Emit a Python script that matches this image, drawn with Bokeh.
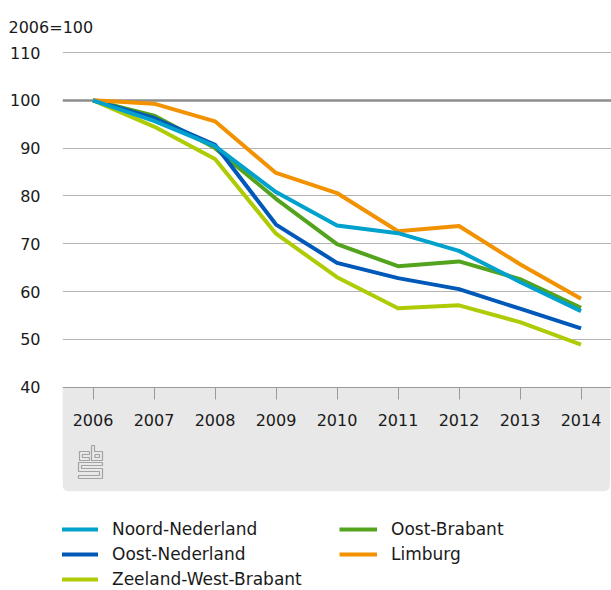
from bokeh.plotting import figure
from bokeh.models import (Range1d, FixedTicker, LinearAxis, Grid, BoxAnnotation,
                          Legend, LegendItem)
from bokeh.embed import file_html
from bokeh.resources import INLINE

# ---------------- data ----------------
years = [2006, 2007, 2008, 2009, 2010, 2011, 2012, 2013, 2014]
x_tick_labels = ["2006", "2007", "2008", "2009", "2010", "2011", "2012", "2013", "2014"]
y_ticks = [40, 50, 60, 70, 80, 90, 100, 110]
base_value = 100

noord_nederland = [100, 95.7, 90.4, 80.8, 73.8, 72.2, 68.5, 62.0, 55.9]
oost_nederland = [100, 96.3, 90.7, 74.0, 66.0, 62.8, 60.5, 56.4, 52.3]
zeeland_west_brabant = [100, 94.5, 87.7, 72.1, 63.0, 56.5, 57.1, 53.6, 48.9]
oost_brabant = [100, 96.8, 90.0, 79.4, 69.9, 65.3, 66.3, 62.6, 56.6]
limburg = [100, 99.3, 95.6, 84.8, 80.6, 72.6, 73.7, 65.7, 58.5]

series_names = ["Noord-Nederland", "Oost-Nederland", "Zeeland-West-Brabant",
                "Oost-Brabant", "Limburg"]
series_values = [noord_nederland, oost_nederland, zeeland_west_brabant,
                 oost_brabant, limburg]
series_colors = ["#00a1cd", "#0058b8", "#afcb05", "#53a31d", "#f39200"]
draw_order = ["Zeeland-West-Brabant", "Oost-Brabant", "Oost-Nederland",
              "Limburg", "Noord-Nederland"]

# ---------------- styling ----------------
FONT = "DejaVu Sans"
TEXT = "#1a1a1a"
FIG_W, FIG_H = 611, 590
FRAME_LEFT = 62
FRAME_TOP = 51
PX_X = 61.0     # px per year
PX_Y = 4.78     # px per index point
Y_TOP = 110.21
X_LEFT = 2005.5
X_RIGHT = X_LEFT + (FIG_W - FRAME_LEFT) / PX_X
Y_BOTTOM = Y_TOP - (FIG_H - FRAME_TOP) / PX_Y

p = figure(width=FIG_W, height=FIG_H, output_backend="svg", toolbar_location=None, tools="",
           x_range=Range1d(X_LEFT, X_RIGHT), y_range=Range1d(Y_BOTTOM, Y_TOP),
           x_axis_location=None, min_border_left=FRAME_LEFT, min_border_right=0,
           min_border_top=FRAME_TOP, min_border_bottom=0,
           title="2006=100")
p.outline_line_color = None
p.background_fill_color = "white"
p.border_fill_color = "white"

p.title.align = "left"
p.title.offset = -54
p.title.standoff = 29
p.title.text_font = FONT
p.title.text_font_size = "16px"
p.title.text_font_style = "normal"
p.title.text_color = TEXT

# y axis
p.yaxis.ticker = FixedTicker(ticks=y_ticks)
p.yaxis.axis_line_color = None
p.yaxis.major_tick_line_color = None
p.yaxis.minor_tick_line_color = None
p.yaxis.major_tick_out = 0
p.yaxis.major_tick_in = 0
p.yaxis.major_label_standoff = 22
p.yaxis.major_label_text_font = FONT
p.yaxis.major_label_text_font_size = "16px"
p.yaxis.major_label_text_color = TEXT

p.xgrid.grid_line_color = None
p.ygrid.ticker = FixedTicker(ticks=[t for t in y_ticks if t not in (y_ticks[0], base_value)])
p.ygrid.grid_line_color = "#b3b3b3"
p.ygrid.grid_line_width = 1

p.add_layout(Grid(dimension=1, ticker=FixedTicker(ticks=[base_value]),
                  grid_line_color="#8c8c8c", grid_line_width=2.5))


def px(page_x, page_y):
    """pixel position -> data coordinates (for decorations only)"""
    return (X_LEFT + (page_x - FRAME_LEFT) / PX_X,
            Y_TOP - (page_y - FRAME_TOP) / PX_Y)


band_bottom = px(0, 490.7)[1]
band_right = px(609.5, 0)[0]
band = BoxAnnotation(top=y_ticks[0], bottom=band_bottom, right=band_right,
                     fill_color="#e8e8e8", fill_alpha=1, line_color=None,
                     level="underlay", border_radius=(0, 0, 6, 6))
p.add_layout(band)

# x axis at y=40, inside the gray band
xaxis = LinearAxis(fixed_location=y_ticks[0], ticker=FixedTicker(ticks=years),
                   major_label_overrides={y: s for y, s in zip(years, x_tick_labels)},
                   axis_line_color="#9a9a9a", axis_line_width=1,
                   major_tick_line_color="#9a9a9a", major_tick_out=12, major_tick_in=0,
                   minor_tick_line_color=None, major_label_standoff=15,
                   major_label_text_font=FONT, major_label_text_font_size="16px",
                   major_label_text_color=TEXT)
p.add_layout(xaxis, "below")

# cbs logo (decoration)
logo_paths = [
    [(89, 451), (79, 451), (79, 460), (89, 460), (89, 457), (82, 457), (82, 454), (89, 454), (89, 451)],
    [(91, 445), (94, 445), (94, 451), (102, 451), (102, 460), (91, 460), (91, 445)],
    [(94.5, 454), (99, 454), (99, 457), (94.5, 457), (94.5, 454)],
    [(102, 462), (78, 462), (78, 471), (99, 471), (99, 475), (78, 475), (78, 478),
     (102, 478), (102, 468), (81, 468), (81, 465), (102, 465), (102, 462)],
]
lx, ly = [], []
for path in logo_paths:
    pts = [px(a, b) for a, b in path]
    lx.append([q[0] for q in pts])
    ly.append([q[1] for q in pts])
p.multi_line(lx, ly, line_color="#a3a3a3", line_width=1.2)

# series lines
renderers = {}
lookup = {n: (v, c) for n, v, c in zip(series_names, series_values, series_colors)}
for name in draw_order:
    vals, col = lookup[name]
    renderers[name] = p.line(years, vals, line_width=4, line_color=col,
                             line_join="round")

legend = Legend(items=[LegendItem(label=n, renderers=[renderers[n]]) for n in series_names],
                orientation="vertical", nrows=3, location=(-2, 1),
                glyph_width=38, glyph_height=20, label_height=20, label_width=222,
                label_standoff=14, spacing=5, padding=0, margin=0,
                border_line_color=None, background_fill_alpha=0,
                label_text_font=FONT, label_text_font_size="17px",
                label_text_color=TEXT)
p.add_layout(legend)

open("out.html", "w").write(file_html(p, INLINE))
